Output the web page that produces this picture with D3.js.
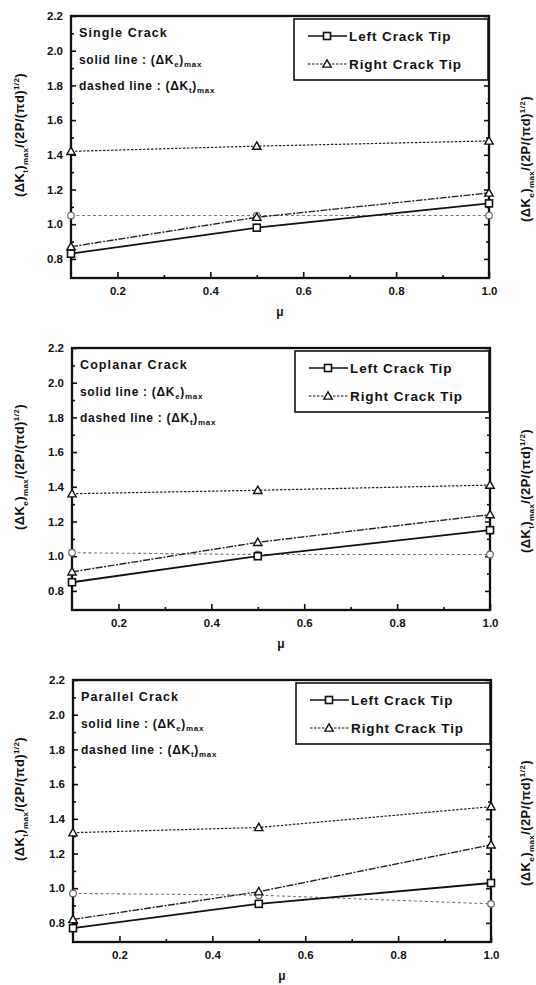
<!DOCTYPE html>
<html>
<head>
<meta charset="utf-8">
<script src="https://cdn.jsdelivr.net/npm/d3@7/dist/d3.min.js"></script>
<style>
  html, body { margin: 0; padding: 0; background: #fff; }
  svg { display: block; }
  text { font-family: "Liberation Sans", Arial, sans-serif; font-weight: bold; fill: #111; }
</style>
</head>
<body>
<svg id="chart" width="536" height="985"></svg>
<script>
// Friction coefficient values where the stress intensity factors were evaluated
const muValues = [0.1, 0.5, 1.0];
const crackTypes = ["Single Crack", "Coplanar Crack", "Parallel Crack"];

// Normalised (ΔKe)max (solid) and (ΔKt)max (dashed) for the left and right crack tips
const singleLeftKe = [0.83, 0.98, 1.12];
const singleRightKe = [0.87, 1.04, 1.18];
const singleLeftKt = [1.05, 1.05, 1.05];
const singleRightKt = [1.42, 1.45, 1.48];

const coplanarLeftKe = [0.85, 1.00, 1.15];
const coplanarRightKe = [0.91, 1.08, 1.24];
const coplanarLeftKt = [1.02, 1.01, 1.01];
const coplanarRightKt = [1.36, 1.38, 1.41];

const parallelLeftKe = [0.77, 0.91, 1.03];
const parallelRightKe = [0.82, 0.98, 1.25];
const parallelLeftKt = [0.97, 0.96, 0.91];
const parallelRightKt = [1.32, 1.35, 1.47];

// Axis ticks
const xTicks = [0.2, 0.4, 0.6, 0.8, 1.0];
const xMinorTicks = [0.3, 0.5, 0.7, 0.9];
const yTicks = [0.8, 1.0, 1.2, 1.4, 1.6, 1.8, 2.0, 2.2];
const yMinorTicks = [0.9, 1.1, 1.3, 1.5, 1.7, 1.9, 2.1];

// Which quantity each side axis shows, per panel
const leftAxisQty = ["t", "e", "t"];
const rightAxisQty = ["e", "t", "e"];

const panelSeries = [
  { leftKe: singleLeftKe, rightKe: singleRightKe, leftKt: singleLeftKt, rightKt: singleRightKt },
  { leftKe: coplanarLeftKe, rightKe: coplanarRightKe, leftKt: coplanarLeftKt, rightKt: coplanarRightKt },
  { leftKe: parallelLeftKe, rightKe: parallelRightKe, leftKt: parallelLeftKt, rightKt: parallelRightKt }
];

const svg = d3.select("#chart");
const W = 418, H = 262;

function kLabel(sel, qty, fontSize) {
  // (ΔK_q)_max/(2P/(πd)^1/2)
  const sub = fontSize * 0.3, small = fontSize * 0.62;
  sel.append("tspan").text("(ΔK");
  sel.append("tspan").attr("dy", sub).attr("font-size", small).text(qty);
  sel.append("tspan").attr("dy", -sub).text(")");
  sel.append("tspan").attr("dy", sub).attr("font-size", small).text("max");
  sel.append("tspan").attr("dy", -sub).text("/(2P/(πd)");
  sel.append("tspan").attr("dy", -fontSize * 0.4).attr("font-size", small).text("1/2");
  sel.append("tspan").attr("dy", fontSize * 0.4).text(")");
}

function annoLabel(sel, prefix, qty) {
  sel.append("tspan").text(prefix + "(ΔK");
  sel.append("tspan").attr("dy", 3).attr("font-size", 8).text(qty);
  sel.append("tspan").attr("dy", -3).text(")");
  sel.append("tspan").attr("dy", 3).attr("font-size", 8).text("max");
}

function marker(g, type, cx, cy, opts) {
  if (type === "square") {
    g.append("rect").attr("x", cx - 3.5).attr("y", cy - 3.5).attr("width", 7).attr("height", 7)
      .attr("fill", "#fff").attr("stroke", "#111").attr("stroke-width", 1.6);
  } else if (type === "triangle") {
    const s = 4.2;
    g.append("path").attr("d", `M${cx},${cy - s}L${cx + s},${cy + s * 0.75}L${cx - s},${cy + s * 0.75}Z`)
      .attr("fill", "#fff").attr("stroke", "#111").attr("stroke-width", 1.4);
  } else {
    g.append("circle").attr("cx", cx).attr("cy", cy).attr("r", 3.3)
      .attr("fill", "#fff").attr("stroke", opts && opts.color || "#555").attr("stroke-width", 1.2);
  }
}

crackTypes.forEach((name, i) => {
  const left = 71 + i, top = 16 + i * 332;
  const x = d3.scaleLinear().domain([0.1, 1.0]).range([left, left + W]);
  const y = d3.scaleLinear().domain([0.69, 2.2]).range([top + H, top]);
  const g = svg.append("g");

  // axes with inward ticks
  const fmt = d3.format(".1f");
  g.append("g").attr("transform", `translate(${left},0)`)
    .call(d3.axisLeft(y).tickValues(yTicks).tickSizeInner(-5).tickSizeOuter(0).tickPadding(8).tickFormat(fmt))
    .call(a => a.select(".domain").remove());
  g.append("g").attr("transform", `translate(${left},0)`)
    .call(d3.axisLeft(y).tickValues(yMinorTicks).tickSizeInner(-3).tickSizeOuter(0).tickFormat(""))
    .call(a => a.select(".domain").remove());
  g.append("g").attr("transform", `translate(${left + W},0)`)
    .call(d3.axisRight(y).tickValues(yTicks).tickSizeInner(-5).tickSizeOuter(0).tickFormat(""))
    .call(a => a.select(".domain").remove());
  g.append("g").attr("transform", `translate(${left + W},0)`)
    .call(d3.axisRight(y).tickValues(yMinorTicks).tickSizeInner(-3).tickSizeOuter(0).tickFormat(""))
    .call(a => a.select(".domain").remove());
  g.append("g").attr("transform", `translate(0,${top + H})`)
    .call(d3.axisBottom(x).tickValues(xTicks).tickSizeInner(-6).tickSizeOuter(0).tickPadding(9).tickFormat(fmt))
    .call(a => a.select(".domain").remove());
  g.append("g").attr("transform", `translate(0,${top + H})`)
    .call(d3.axisBottom(x).tickValues(xMinorTicks).tickSizeInner(-3).tickSizeOuter(0).tickFormat(""))
    .call(a => a.select(".domain").remove());
  g.selectAll(".tick line").attr("stroke", "#111").attr("stroke-width", 1.6);
  g.selectAll(".tick text").attr("font-size", 11.5).attr("font-weight", "bold")
    .attr("font-family", "Liberation Sans, Arial, sans-serif").attr("fill", "#111");

  // frame
  g.append("rect").attr("x", left).attr("y", top).attr("width", W).attr("height", H)
    .attr("fill", "none").attr("stroke", "#111").attr("stroke-width", 2.3);

  const s = panelSeries[i];
  const line = d3.line().x((d, k) => x(muValues[k])).y(d => y(d));

  // (ΔKt)max — dashed lines
  g.append("path").datum(s.leftKt).attr("d", line).attr("fill", "none")
    .attr("stroke", "#777").attr("stroke-width", 1.1).attr("stroke-dasharray", "3,2.5");
  g.append("path").datum(s.rightKt).attr("d", line).attr("fill", "none")
    .attr("stroke", "#222").attr("stroke-width", 1.2).attr("stroke-dasharray", "2.5,1.5");
  // (ΔKe)max — solid lines
  g.append("path").datum(s.rightKe).attr("d", line).attr("fill", "none")
    .attr("stroke", "#222").attr("stroke-width", 1.4).attr("stroke-dasharray", "7,1.5,2,1.5");
  g.append("path").datum(s.leftKe).attr("d", line).attr("fill", "none")
    .attr("stroke", "#111").attr("stroke-width", 1.8);

  s.leftKt.forEach((v, k) => marker(g, "circle", x(muValues[k]), y(v), { color: "#666" }));
  s.rightKt.forEach((v, k) => marker(g, "triangle", x(muValues[k]), y(v)));
  s.rightKe.forEach((v, k) => marker(g, "triangle", x(muValues[k]), y(v)));
  s.leftKe.forEach((v, k) => marker(g, "square", x(muValues[k]), y(v)));

  // annotation block
  g.append("text").attr("x", left + 8).attr("y", top + 21).attr("font-size", 12.5)
    .attr("letter-spacing", 1.1).text(name);
  annoLabel(g.append("text").attr("x", left + 8).attr("y", top + 48).attr("font-size", 12)
    .attr("letter-spacing", 0.7), "solid line : ", "e");
  annoLabel(g.append("text").attr("x", left + 8).attr("y", top + 74).attr("font-size", 12)
    .attr("letter-spacing", 0.7), "dashed line : ", "t");

  // legend
  const lx = left + 223, ly = top + 3;
  g.append("rect").attr("x", lx).attr("y", ly).attr("width", 194).attr("height", 61)
    .attr("fill", "#fff").attr("stroke", "#111").attr("stroke-width", 1.6);
  const legendRows = [
    { label: "Left Crack Tip", type: "square", dash: null },
    { label: "Right Crack Tip", type: "triangle", dash: "2.5,1.5" }
  ];
  legendRows.forEach((r, k) => {
    const ry = ly + 17 + k * 28;
    g.append("line").attr("x1", lx + 14).attr("x2", lx + 53).attr("y1", ry).attr("y2", ry)
      .attr("stroke", "#111").attr("stroke-width", r.dash ? 1.2 : 1.6)
      .attr("stroke-dasharray", r.dash);
    marker(g, r.type, lx + 33, ry);
    g.append("text").attr("x", lx + 55).attr("y", ry + 5).attr("font-size", 13.5)
      .attr("letter-spacing", 0.9).text(r.label);
  });

  // axis titles
  const cy = top + H / 2 - 12;
  kLabel(g.append("text").attr("text-anchor", "middle").attr("font-size", 13)
    .attr("letter-spacing", 0.4)
    .attr("transform", `translate(24,${cy}) rotate(-90)`), leftAxisQty[i], 13);
  kLabel(g.append("text").attr("text-anchor", "middle").attr("font-size", 13)
    .attr("letter-spacing", 0.4)
    .attr("transform", `translate(530,${cy + 24}) rotate(-90)`), rightAxisQty[i], 13);
  g.append("text").attr("x", left + 209).attr("y", top + H + 38).attr("text-anchor", "middle")
    .attr("font-size", 12).text("μ");
});
</script>
</body>
</html>
